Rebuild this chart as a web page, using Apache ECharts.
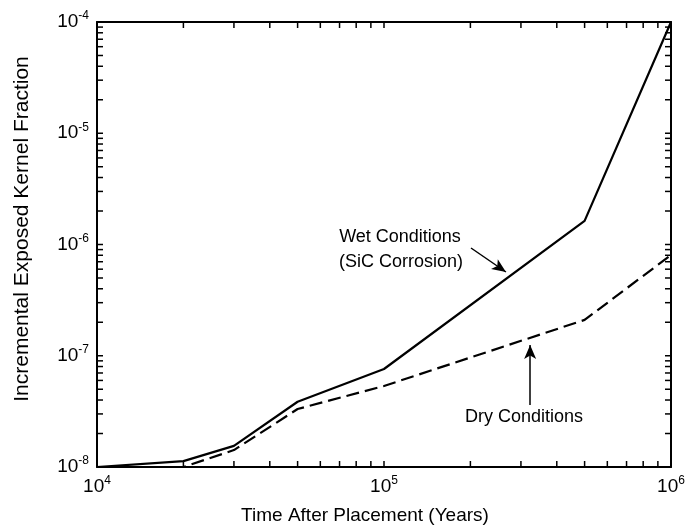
<!DOCTYPE html>
<html>
<head>
<meta charset="utf-8">
<script src="https://cdn.jsdelivr.net/npm/echarts@6/dist/echarts.min.js"></script>
<style>
  html, body { margin: 0; padding: 0; background: #fff; }
  #chart { width: 688px; height: 528px; }
</style>
</head>
<body>
<div id="chart"></div>
<script>
  // time after placement (years)
  let years = [1e4, 2e4, 3e4, 5e4, 1e5, 5e5, 1e6];
  // wet conditions (SiC corrosion)
  let wetValues = [1e-8, 1.13e-8, 1.55e-8, 3.86e-8, 7.6e-8, 1.63e-6, 1e-4];
  // dry conditions
  let dryValues = [1e-8, 1e-8, 1.42e-8, 3.32e-8, 5.35e-8, 2.1e-7, 8.05e-7];

  let xTickValues = [1e4, 2e4, 3e4, 4e4, 5e4, 6e4, 7e4, 8e4, 9e4,
    1e5, 2e5, 3e5, 4e5, 5e5, 6e5, 7e5, 8e5, 9e5, 1e6];
  let xLabelValues = [1e4, 1e5, 1e6];
  let yTickValues = [
    1e-8, 2e-8, 3e-8, 4e-8, 5e-8, 6e-8, 7e-8, 8e-8, 9e-8,
    1e-7, 2e-7, 3e-7, 4e-7, 5e-7, 6e-7, 7e-7, 8e-7, 9e-7,
    1e-6, 2e-6, 3e-6, 4e-6, 5e-6, 6e-6, 7e-6, 8e-6, 9e-6,
    1e-5, 2e-5, 3e-5, 4e-5, 5e-5, 6e-5, 7e-5, 8e-5, 9e-5, 1e-4
  ];
  let yLabelValues = [1e-8, 1e-7, 1e-6, 1e-5, 1e-4];

  let xMin = 1e4, xMax = 1e6, yMin = 1e-8, yMax = 1e-4;
  let tickLen = 6;

  let fontFamily = '"Liberation Sans", Arial, Helvetica, sans-serif';

  let powRich = {
    b: { fontSize: 19, fontFamily: fontFamily, color: '#000' },
    s: { fontSize: 12, fontFamily: fontFamily, color: '#000', padding: [0, 0, 12, 0] }
  };

  function powLabel(v) {
    return '{b|10}{s|' + Math.round(Math.log10(v)) + '}';
  }

  let axisLineStyle = { color: '#000', width: 2 };

  function xAxisOf(pos, showLabel) {
    return {
      type: 'log',
      logBase: 10,
      min: xMin,
      max: xMax,
      position: pos,
      axisLine: { show: true, lineStyle: axisLineStyle },
      axisTick: { show: false },
      axisLabel: { show: showLabel, customValues: xLabelValues, formatter: powLabel, rich: powRich, margin: 8 },
      splitLine: { show: false }
    };
  }

  function yAxisOf(pos, showLabel) {
    return {
      type: 'log',
      logBase: 10,
      min: yMin,
      max: yMax,
      position: pos,
      axisLine: { show: true, lineStyle: axisLineStyle },
      axisTick: { show: false },
      axisLabel: { show: showLabel, customValues: yLabelValues, formatter: powLabel, rich: powRich, margin: 8 },
      splitLine: { show: false }
    };
  }

  // small inward tick marks, placed through the axes' own log scales
  function tickSeries(data, dx, dy) {
    return {
      type: 'custom',
      silent: true,
      clip: false,
      z: 5,
      data: data,
      renderItem: function (params, api) {
        let p = api.coord([api.value(0), api.value(1)]);
        return {
          type: 'line',
          shape: { x1: p[0], y1: p[1], x2: p[0] + dx, y2: p[1] + dy },
          style: { stroke: '#000', lineWidth: 1.5 }
        };
      }
    };
  }

  let arrowMarkLine = function (from, to) {
    return {
      silent: true,
      symbol: ['none', 'arrow'],
      symbolSize: [9, 14],
      label: { show: false },
      lineStyle: { color: '#000', width: 1.5, type: 'solid' },
      data: [[{ coord: from }, { coord: to }]]
    };
  };

  let chart = echarts.init(document.getElementById('chart'), null, { renderer: 'canvas' });

  let option = {
    backgroundColor: '#ffffff',
    animation: false,
    grid: { left: 97, right: 17, top: 22, bottom: 61, containLabel: false },
    xAxis: [xAxisOf('bottom', true), xAxisOf('top', false)],
    yAxis: [yAxisOf('left', true), yAxisOf('right', false)],
    series: [
      {
        name: 'Wet Conditions',
        type: 'line',
        data: years.map(function (x, i) { return [x, wetValues[i]]; }),
        showSymbol: false,
        lineStyle: { color: '#000', width: 2.2 },
        markLine: arrowMarkLine([2.01e5, 9.3e-7], [2.66e5, 5.66e-7])
      },
      {
        name: 'Dry Conditions',
        type: 'line',
        data: years.map(function (x, i) { return [x, dryValues[i]]; }),
        showSymbol: false,
        lineStyle: { color: '#000', width: 2.2, type: [13, 6] },
        markLine: arrowMarkLine([3.23e5, 3.6e-8], [3.23e5, 1.25e-7])
      },
      tickSeries(xTickValues.map(function (v) { return [v, yMin]; }), 0, -tickLen),
      tickSeries(xTickValues.map(function (v) { return [v, yMax]; }), 0, tickLen),
      tickSeries(yTickValues.map(function (v) { return [xMin, v]; }), tickLen, 0),
      tickSeries(yTickValues.map(function (v) { return [xMax, v]; }), -tickLen, 0)
    ],
    graphic: [
      {
        type: 'text', x: 22, y: 229, rotation: Math.PI / 2,
        style: { text: 'Incremental Exposed Kernel Fraction', fontSize: 21, fontFamily: fontFamily, fill: '#000', align: 'center', verticalAlign: 'middle' }
      },
      {
        type: 'text', x: 365, y: 516,
        style: { text: 'Time After Placement (Years)', fontSize: 19, fontFamily: fontFamily, fill: '#000', align: 'center', verticalAlign: 'middle' }
      },
      {
        type: 'text', x: 400, y: 237,
        style: { text: 'Wet Conditions', fontSize: 18, fontFamily: fontFamily, fill: '#000', align: 'center', verticalAlign: 'middle' }
      },
      {
        type: 'text', x: 401, y: 262,
        style: { text: '(SiC Corrosion)', fontSize: 18, fontFamily: fontFamily, fill: '#000', align: 'center', verticalAlign: 'middle' }
      },
      {
        type: 'text', x: 524, y: 417,
        style: { text: 'Dry Conditions', fontSize: 18, fontFamily: fontFamily, fill: '#000', align: 'center', verticalAlign: 'middle' }
      }
    ]
  };

  chart.setOption(option);
</script>
</body>
</html>
